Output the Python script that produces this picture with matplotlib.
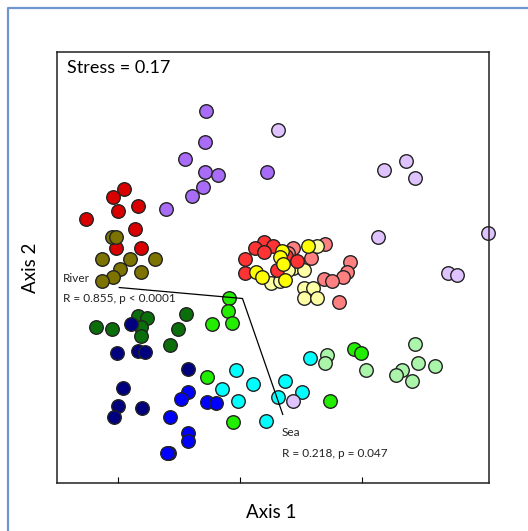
import matplotlib
matplotlib.use("Agg")
import matplotlib.pyplot as plt
from matplotlib.lines import Line2D

plt.rcParams['font.family'] = ['Lato', 'DejaVu Sans']

# NMDS scores per group (axis 1, axis 2)
purple_x = [-0.28, -0.29, -0.45, -0.29, -0.18, -0.30, -0.39, -0.61, 0.22]
purple_y = [1.29, 1.03, 0.89, 0.79, 0.76, 0.66, 0.59, 0.48, 0.79]

lavender_x = [0.31, 1.18, 1.36, 1.43, 1.13, 2.03, 1.70, 1.78, 0.43]
lavender_y = [1.13, 0.80, 0.88, 0.74, 0.25, 0.29, -0.04, -0.06, -1.09]

darkred_x = [-0.95, -1.04, -0.84, -1.00, -1.26, -0.86, -1.02, -0.81]
darkred_y = [0.65, 0.58, 0.51, 0.47, 0.40, 0.32, 0.16, 0.16]

olive_x = [-1.05, -1.02, -1.13, -0.90, -0.70, -0.98, -0.81, -1.04, -1.13]
olive_y = [0.25, 0.25, 0.07, 0.07, 0.07, -0.01, -0.03, -0.07, -0.11]

salmon_x = [0.43, 0.70, 0.58, 0.90, 0.88, 0.84, 0.69, 0.75, 0.81, 0.39]
salmon_y = [0.16, 0.20, 0.08, 0.05, -0.03, -0.07, -0.09, -0.11, -0.28, 0.12]

lightyellow_x = [0.63, 0.43, 0.52, 0.25, 0.52, 0.60, 0.52, 0.63, 0.33, 0.39]
lightyellow_y = [0.18, 0.00, -0.02, -0.12, -0.16, -0.16, -0.25, -0.25, -0.11, -0.02]

red_x = [0.20, 0.12, 0.27, 0.20, 0.04, 0.04, 0.38, 0.47, 0.30]
red_y = [0.21, 0.16, 0.18, 0.13, 0.07, -0.04, 0.10, 0.06, -0.02]

yellow_x = [0.34, 0.56, 0.13, 0.18, 0.33, 0.35, 0.37]
yellow_y = [0.14, 0.18, -0.03, -0.07, 0.09, 0.03, -0.10]

lime_x = [-0.09, -0.10, -0.07, -0.23, -0.27, -0.06, 0.74, 0.93, 0.99]
lime_y = [-0.25, -0.35, -0.45, -0.46, -0.89, -1.26, -1.09, -0.66, -0.70]

darkgreen_x = [-1.18, -1.05, -0.84, -0.76, -0.81, -0.81, -0.44, -0.51, -0.57]
darkgreen_y = [-0.48, -0.50, -0.39, -0.41, -0.48, -0.56, -0.38, -0.50, -0.63]

navy_x = [-0.89, -1.01, -0.84, -0.78, -0.43, -0.96, -1.00, -0.80, -1.03]
navy_y = [-0.46, -0.70, -0.68, -0.69, -0.83, -0.98, -1.13, -1.15, -1.22]

blue_x = [-0.43, -0.48, -0.27, -0.20, -0.57, -0.43, -0.43, -0.58, -0.60]
blue_y = [-1.02, -1.07, -1.10, -1.11, -1.22, -1.35, -1.42, -1.52, -1.52]

cyan_x = [-0.03, 0.11, -0.15, -0.02, 0.21, 0.31, 0.37, 0.57, 0.51]
cyan_y = [-0.84, -0.95, -0.99, -1.09, -1.25, -1.06, -0.93, -0.74, -1.02]

lightgreen_x = [0.71, 0.70, 1.03, 1.43, 1.46, 1.60, 1.33, 1.28, 1.41]
lightgreen_y = [-0.71, -0.78, -0.84, -0.62, -0.78, -0.80, -0.84, -0.88, -0.93]

# ANOSIM annotation connector
link_x = [-0.99, 0.02, 0.35]
link_y = [-0.16, -0.25, -1.20]

groups = [
    (purple_x, purple_y, '#a86cf7'),
    (darkred_x, darkred_y, '#d90000'),
    (olive_x, olive_y, '#7d7300'),
    (salmon_x, salmon_y, '#ff8080'),
    (lightyellow_x, lightyellow_y, '#ffffa6'),
    (red_x, red_y, '#ff3333'),
    (yellow_x, yellow_y, '#ffff00'),
    (darkgreen_x, darkgreen_y, '#0a6e0a'),
    (navy_x, navy_y, '#00007f'),
    (blue_x, blue_y, '#0000ff'),
    (cyan_x, cyan_y, '#00ffff'),
    (lime_x, lime_y, '#22ee00'),
    (lightgreen_x, lightgreen_y, '#aaf5aa'),
    (lavender_x, lavender_y, '#dfc3ff'),
]

fig = plt.figure(figsize=(5.28, 5.31), dpi=100)
ax = fig.add_axes([57 / 528, 1 - 483 / 531, 432 / 528, 431 / 531])

for gx, gy, col in groups:
    ax.scatter(gx, gy, s=95, color=col, edgecolors='#222222', linewidths=1.0,
               zorder=2, clip_on=False)

# line drawn over the markers, as in the original
ax.plot(link_x, link_y, color='black', lw=0.9, zorder=3)

ax.set_xlim(-1.5, 2.04)
ax.set_ylim(-1.762, 1.77)
ax.set_xticks([-1, 0, 1])
ax.set_xticklabels([])
ax.set_yticks([])
ax.tick_params(axis='x', direction='in', length=4, width=0.8)
for sp in ax.spines.values():
    sp.set_linewidth(1.1)
    sp.set_color('#222222')

ax.text(0.022, 0.962, 'Stress = 0.17', transform=ax.transAxes, fontsize=13,
        ha='left', va='center')
ax.text(-1.45, -0.09, 'River', fontsize=8.5, ha='left', va='center', color='#222222')
ax.text(-1.45, -0.25, 'R = 0.855, p < 0.0001', fontsize=8.5, ha='left', va='center',
        color='#222222')
ax.text(0.34, -1.35, 'Sea', fontsize=8.5, ha='left', va='center', color='#222222')
ax.text(0.34, -1.52, 'R = 0.218, p = 0.047', fontsize=8.5, ha='left', va='center',
        color='#222222')

fig.text(271 / 528, 1 - 513 / 531, 'Axis 1', fontsize=13.5, ha='center', va='center')
fig.text(31 / 528, 1 - 268 / 531, 'Axis 2', fontsize=13.5, ha='center', va='center',
         rotation=90)

# light blue frame on the left and top edges
fig.add_artist(Line2D([8 / 528, 8 / 528, 1.0], [0.0, 1 - 8 / 531, 1 - 8 / 531],
                      transform=fig.transFigure, color='#6f95cf', lw=1.6))

fig.savefig('out.png', dpi=100)
